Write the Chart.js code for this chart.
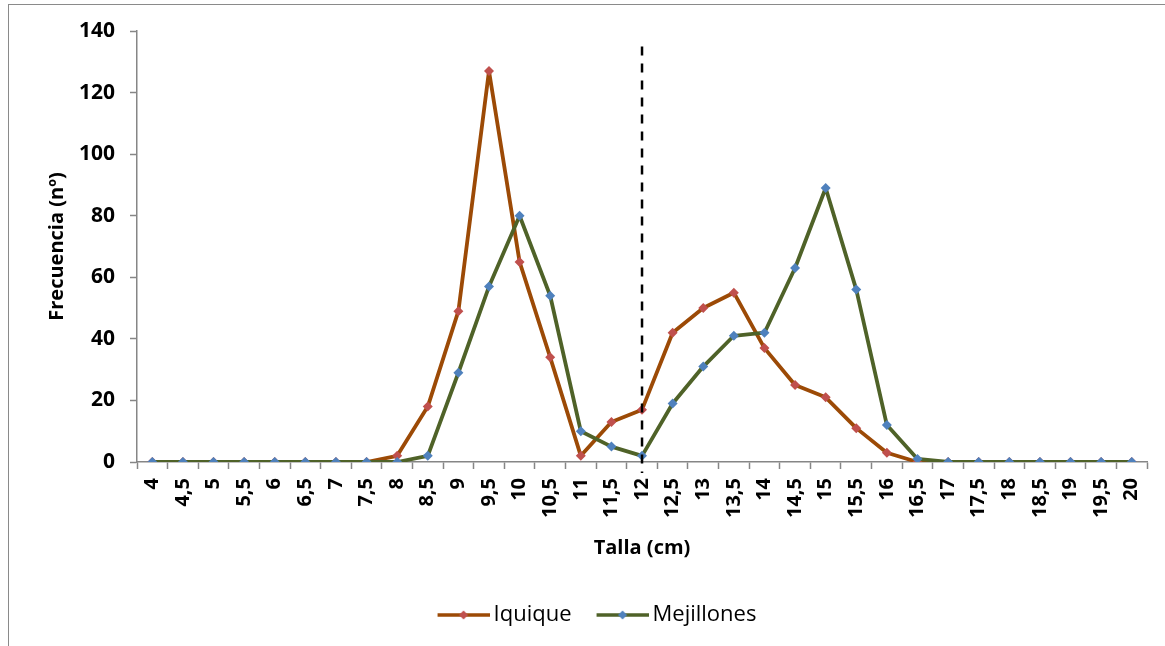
<!DOCTYPE html>
<html>
<head>
<meta charset="utf-8">
<script src="https://cdn.jsdelivr.net/npm/chart.js@4.4.0/dist/chart.umd.min.js"></script>
<style>
  html, body { margin: 0; padding: 0; background: #fff; overflow: hidden; }
  #frame { position: absolute; left: 8px; top: 4px; width: 1180px; height: 700px; border: 1.5px solid #8a8a8a; box-sizing: border-box; }
  #c { position: absolute; left: 0; top: 0; }
</style>
</head>
<body>
<div id="frame"></div>
<canvas id="c" width="1165" height="646"></canvas>
<script>
const categories = ["4","4,5","5","5,5","6","6,5","7","7,5","8","8,5","9","9,5","10","10,5","11","11,5","12","12,5","13","13,5","14","14,5","15","15,5","16","16,5","17","17,5","18","18,5","19","19,5","20"];
const iquique    = [0,0,0,0,0,0,0,0,2,18,49,127,65,34,2,13,17,42,50,55,37,25,21,11,3,0,0,0,0,0,0,0,0];
const mejillones = [0,0,0,0,0,0,0,0,0,2,29,57,80,54,10,5,2,19,31,41,42,63,89,56,12,1,0,0,0,0,0,0,0];
const yTicks = { min: 0, max: 140, step: 20 };
const cutLabel = "12";
const seriesNames = ["Iquique", "Mejillones"];

const FONT = "'Open Sans', Lato, sans-serif";
const colIqLine = "#9c4a06", colIqPt = "#c0504d";
const colMeLine = "#4f6228", colMePt = "#4f81bd";

// legend sample: 52px line with diamond, shifted 7px to the right inside a 66px image
function legendImg(lineCol, ptCol) {
  const cv = document.createElement('canvas');
  cv.width = 66; cv.height = 12;
  const g = cv.getContext('2d');
  g.strokeStyle = lineCol; g.lineWidth = 3.5;
  g.beginPath(); g.moveTo(14, 6); g.lineTo(66, 6); g.stroke();
  g.fillStyle = ptCol;
  g.beginPath(); g.moveTo(40, 1.5); g.lineTo(44.5, 6); g.lineTo(40, 10.5); g.lineTo(35.5, 6); g.closePath(); g.fill();
  return cv;
}
const legImgs = [legendImg(colIqLine, colIqPt), legendImg(colMeLine, colMePt)];

const cutLine = {
  id: 'cutLine',
  afterDatasetsDraw(chart) {
    const x = chart.scales.x.getPixelForValue(categories.indexOf(cutLabel));
    const yTop = chart.scales.y.getPixelForValue(135);
    const yBot = chart.chartArea.bottom + 11;
    const ctx = chart.ctx;
    ctx.save();
    ctx.strokeStyle = '#000';
    ctx.lineWidth = 2.5;
    ctx.setLineDash([9, 8]);
    ctx.beginPath(); ctx.moveTo(x, yTop); ctx.lineTo(x, yBot); ctx.stroke();
    ctx.restore();
  }
};

Chart.defaults.color = '#000';
Chart.defaults.font.family = FONT;

new Chart(document.getElementById('c'), {
  type: 'line',
  data: {
    labels: categories,
    datasets: [
      { label: seriesNames[0], data: iquique, order: 1, borderColor: colIqLine, borderWidth: 3.8, borderJoinStyle: 'round',
        pointStyle: 'rectRot', pointRadius: 5, pointBackgroundColor: colIqPt, pointBorderColor: colIqPt, pointBorderWidth: 0, tension: 0 },
      { label: seriesNames[1], data: mejillones, order: 0, borderColor: colMeLine, borderWidth: 3.8, borderJoinStyle: 'round',
        pointStyle: 'rectRot', pointRadius: 5, pointBackgroundColor: colMePt, pointBorderColor: colMePt, pointBorderWidth: 0, tension: 0 }
    ]
  },
  options: {
    responsive: false,
    animation: false,
    devicePixelRatio: 1,
    layout: { padding: { top: 31, left: 39, right: 17, bottom: 10 } },
    plugins: {
      tooltip: { enabled: false },
      legend: {
        position: 'bottom',
        labels: {
          font: { family: FONT, size: 22 },
          padding: 18,
          usePointStyle: true,
          pointStyleWidth: 52,
          sort: (a, b) => a.datasetIndex - b.datasetIndex,
          generateLabels(chart) {
            return chart.data.datasets.map((ds, i) => ({
              text: ds.label, datasetIndex: i, pointStyle: legImgs[i],
              fillStyle: ds.borderColor, strokeStyle: ds.borderColor, lineWidth: 0, hidden: false, fontColor: '#000'
            }));
          }
        }
      }
    },
    scales: {
      x: {
        offset: true,
        grid: { offset: true, drawOnChartArea: false, color: '#868686', tickLength: 7, tickWidth: 1.5 },
        border: { color: '#868686', width: 1.5 },
        ticks: { autoSkip: false, maxRotation: 90, minRotation: 90, padding: 9, font: { family: FONT, size: 20, weight: 'bold' } },
        title: { display: true, text: 'Talla (cm)', font: { family: FONT, size: 20, weight: 'bold' }, padding: { top: 0, bottom: 26 } },
        afterFit(s) { s.height = 124; }
      },
      y: {
        min: yTicks.min, max: yTicks.max,
        grid: { drawOnChartArea: false, color: '#868686', tickLength: 7, tickWidth: 1.5 },
        border: { color: '#868686', width: 1.5 },
        ticks: { stepSize: yTicks.step, padding: 15, font: { family: FONT, size: 21, weight: 'bold' } },
        title: { display: true, text: 'Frecuencia (nº)', font: { family: FONT, size: 20, weight: 'bold' }, padding: { top: 6, bottom: 0 } },
        afterFit(s) { s.width = 98; }
      }
    }
  },
  plugins: [cutLine]
});
</script>
</body>
</html>
